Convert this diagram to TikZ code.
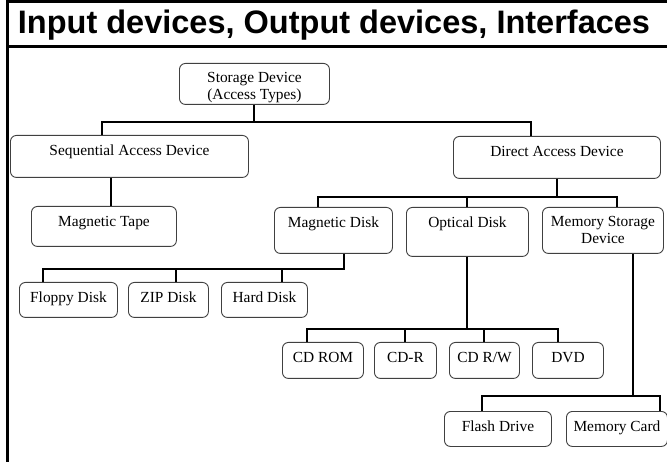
\documentclass[tikz,border=0pt]{standalone}
\usepackage{fontspec}
\setmainfont{Liberation Serif}
\newfontfamily\titlefont{Liberation Sans}
\usetikzlibrary{positioning}

\tikzset{
  devbox/.style={draw=black!75, line width=0.9pt, rounded corners=6pt, anchor=north west,
    inner sep=0pt, align=center, font=\fontsize{15.4}{17}\selectfont},
  conn/.style={draw, line width=2pt},
  frame/.style={draw, line width=3pt}
}
\newcommand{\DevBox}[6]{\node[devbox, minimum width={(#4-#2)*1pt}, minimum height={(#5-#3)*1pt},
  text height=20pt, text depth={(#5-#3-20)*1pt}] (#1) at (#2,#3) {#6};}

\begin{document}
\begin{tikzpicture}[x=1pt, y=-1pt]
  \useasboundingbox (0,0) rectangle (667,462);
  \draw[frame] (7,462) -- (7,2) -- (667,2);
  \draw[frame] (7,47) -- (667,47);
  \node[font=\titlefont\bfseries\fontsize{32.5}{35}\selectfont] (title) at (334,25) {Input devices, Output devices, Interfaces};

  \node[devbox, minimum width=150pt, minimum height=41pt, text height=36pt, text depth=5pt] (storage) at (179,63) {Storage Device\\(Access Types)};
  \DevBox{seq}{10}{135}{248}{177}{Sequential Access Device}
  \DevBox{direct}{453}{136}{660}{178}{Direct Access Device}
  \DevBox{tape}{31}{206}{176}{246}{Magnetic Tape}
  \DevBox{magdisk}{274}{207}{392}{253}{Magnetic Disk}
  \DevBox{optical}{406}{207}{528}{256}{Optical Disk}
  \node[devbox, minimum width=121pt, minimum height=46pt] (memstor) at (542,207) {Memory Storage\\Device};
  \DevBox{floppy}{19}{282}{117}{317}{Floppy Disk}
  \DevBox{zip}{128}{282}{208}{317}{ZIP Disk}
  \DevBox{hard}{221}{282}{307}{317}{Hard Disk}
  \DevBox{cdrom}{282}{342}{363}{378}{CD ROM}
  \DevBox{cdr}{374}{342}{436}{378}{CD-R}
  \DevBox{cdrw}{449}{342}{519}{378}{CD R/W}
  \DevBox{dvd}{532}{342}{603}{378}{DVD}
  \DevBox{flash}{444}{411}{551}{446}{Flash Drive}
  \DevBox{card}{566}{411}{667}{446}{Memory Card}

  \draw[conn] (storage.south) -- ++(0,17) -| ([xshift=-27pt]seq.north);
  \draw[conn] (storage.south) -- ++(0,17) -| ([xshift=-26pt]direct.north);
  \draw[conn] ([xshift=-18pt]seq.south) -- ([xshift=7.5pt]tape.north);
  \draw[conn] (direct.south) -- ++(0,18) -| ([xshift=-15pt]magdisk.north);
  \draw[conn] (direct.south) -- ++(0,18) -| (optical.north);
  \draw[conn] (direct.south) -- ++(0,18) -| ([xshift=14.5pt]memstor.north);
  \draw[conn] ([xshift=11pt]magdisk.south) -- ++(0,15) -| ([xshift=-25pt]floppy.north);
  \draw[conn] ([xshift=11pt]magdisk.south) -- ++(0,15) -| ([xshift=8pt]zip.north);
  \draw[conn] ([xshift=11pt]magdisk.south) -- ++(0,15) -| ([xshift=18pt]hard.north);
  \draw[conn] (optical.south) -- ++(0,72) -| ([xshift=-15.5pt]cdrom.north);
  \draw[conn] (optical.south) -- ++(0,72) -| (cdr.north);
  \draw[conn] (optical.south) -- ++(0,72) -| (cdrw.north);
  \draw[conn] (optical.south) -- ++(0,72) -| ([xshift=-9.5pt]dvd.north);
  \draw[conn] ([xshift=30pt]memstor.south) -- ++(0,142) -| ([xshift=-15.5pt]flash.north);
  \draw[conn] ([xshift=30pt]memstor.south) -- ++(0,142) -| ([xshift=43.5pt]card.north);
\end{tikzpicture}
\end{document}
